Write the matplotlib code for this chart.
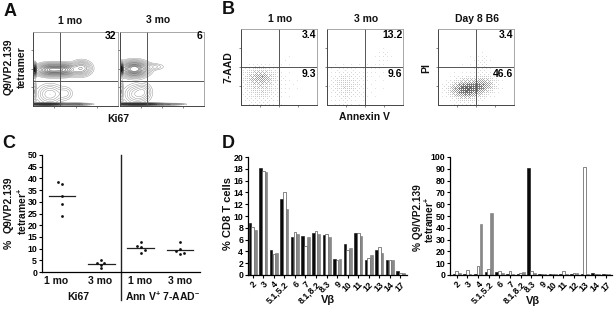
import numpy as np
import matplotlib
matplotlib.use("Agg")
import matplotlib.pyplot as plt

plt.rcParams['font.family'] = ['Liberation Sans', 'DejaVu Sans']
plt.rcParams['font.weight'] = 'bold'
plt.rcParams['mathtext.default'] = 'regular'

W, H = 615, 311

# Panel A: density blobs (x, y, sx, sy, weight), axes fractions
a1_blobs = [(.20, .49, .08, .04, .75), (.36, .49, .08, .04, .70), (.57, .51, .06, .05, .32),
            (.02, .49, .010, .04, 1.3), (.20, .16, .08, .07, .14), (.38, .17, .05, .05, .06),
            (.15, .025, .11, .007, 1.4), (.50, .025, .09, .007, .3), (.02, .2, .010, .09, .10)]
a2_blobs = [(.17, .50, .08, .05, 1.0), (.40, .53, .07, .025, .06), (.02, .50, .010, .04, 1.3),
            (.20, .16, .08, .07, .14), (.28, .20, .05, .06, .08), (.20, .025, .15, .007, 1.4),
            (.60, .025, .09, .006, .15), (.02, .2, .010, .09, .10)]
a_cross = [(.32, .34), (.32, .34)]
a_labels = ['32', '6']

# Panel B: dot clouds as density blobs
b1_blobs = [(.25, .38, .15, .08, .42), (.25, .20, .16, .14, .28), (.62, .60, .06, .05, .05), (.65, .25, .16, .12, .03)]
b2_blobs = [(.25, .25, .15, .15, .28), (.74, .64, .07, .08, .10), (.60, .45, .10, .07, .07), (.68, .22, .12, .10, .03)]
b3_blobs = [(.37, .20, .15, .09, .85), (.62, .27, .11, .08, .45), (.60, .55, .06, .10, .12), (.40, .55, .13, .10, .03)]
b_titles = ['1 mo', '3 mo', 'Day 8 B6']
b_upper = ['3.4', '13.2', '3.4']
b_lower = ['9.3', '9.6', '46.6']
bayer = np.array([[0, 32, 8, 40, 2, 34, 10, 42], [48, 16, 56, 24, 50, 18, 58, 26],
                  [12, 44, 4, 36, 14, 46, 6, 38], [60, 28, 52, 20, 62, 30, 54, 22],
                  [3, 35, 11, 43, 1, 33, 9, 41], [51, 19, 59, 27, 49, 17, 57, 25],
                  [15, 47, 7, 39, 13, 45, 5, 37], [63, 31, 55, 23, 61, 29, 53, 21]]) / 64

# Panel C
c_lines = [32.3, 3.6, 10.3, 9.5]
c_x_off = [[-.1, 0, 0, 0, 0], [0, -.1, .08, 0, 0], [0, -.1, 0, .1, 0], [0, -.1, 0, .1, 0]]
c_y = [[38.5, 37.5, 32.3, 29, 24], [5.2, 4, 4, 3, 1.5], [12.8, 11.3, 10.5, 9.2, 8.3], [12.8, 9.1, 9.7, 8, 7.8]]

# Panel D
vb = ['2', '3', '4', '5.1,5.2', '6', '7', '8.1,8.2', '8.3', '9', '10', '11', '12', '13', '14', '17']
d1_black = [8.8, 18.1, 4.2, 12.8, 6.4, 6.6, 7.1, 6.7, 2.7, 5.3, 7.1, 2.5, 4.2, 2.6, 0.6]
d1_white = [8.1, 17.7, 3.5, 14.1, 7.3, 4.9, 7.4, 7.0, 2.5, 4.2, 7.1, 2.9, 4.7, 2.5, 0.4]
d1_gray = [7.6, 17.5, 3.7, 11.2, 7.0, 6.4, 6.9, 6.5, 2.7, 4.6, 6.6, 3.4, 3.8, 2.5, 0.3]
d2_black = [1, 1, 1, 2.5, 2.5, 1, 1, 91, 1, 1, 1, .5, 1, 1.5, .5]
d2_white = [3, 4, 7.5, 5, 3, 3.5, 2, 3.5, .5, 1, 3, 2, 91.5, 1, 1]
d2_gray = [1.5, .7, 43.5, 52.5, 1.5, 1, 2.3, 2, .5, 1, .5, 1.5, .5, 1, 1]


def box(x0, y0, x1, y1):
    # axes from pixel corners, y counted from the top
    return fig.add_axes([x0 / W, 1 - y1 / H, (x1 - x0) / W, (y1 - y0) / H])


def txt(x, y, s, size=7.5, **kw):
    kw.setdefault('ha', 'center')
    kw.setdefault('va', 'center')
    fig.text(x / W, 1 - y / H, s, fontsize=size, fontweight='bold', color='#111111', **kw)


def density(blobs, n=200):
    g = np.linspace(0, 1, n)
    xx, yy = np.meshgrid(g, g)
    z = np.zeros_like(xx)
    for cx, cy, sx, sy, w in blobs:
        z += w * np.exp(-(xx - cx) ** 2 / (2 * sx ** 2) - (yy - cy) ** 2 / (2 * sy ** 2))
    return g, z


def flow_frame(ax, cx, cy):
    ax.set_xlim(0, 1)
    ax.set_ylim(0, 1)
    ax.axvline(cx, color='#555555', lw=.7)
    ax.axhline(cy, color='#555555', lw=.7)
    ax.set_xticks([.25, .5, .75])
    ax.set_yticks([.25, .5, .75])
    ax.tick_params(length=1.5, width=.5, labelleft=False, labelbottom=False, color='#555555')
    for s in ['top', 'right']:
        ax.spines[s].set_color('#999999')
        ax.spines[s].set_linewidth(.6)
    for s in ['left', 'bottom']:
        ax.spines[s].set_color('#444444')
        ax.spines[s].set_linewidth(.7)


fig = plt.figure(figsize=(W / 100, H / 100), dpi=100)

# A
a_boxes = [(33, 32, 118, 106), (120, 32, 204, 106)]
a_levels = [.015, .03, .05, .075, .105, .14, .19, .25, .33, .42, .52, .62, .72, .82]
a_shades = ['#888888'] * 6 + ['#555555'] * 3 + ['#333333'] * 5
for pos, blobs, cross, lab in zip(a_boxes, [a1_blobs, a2_blobs], a_cross, a_labels):
    ax = box(*pos)
    g, z = density(blobs)
    ax.contour(g, g, z, levels=a_levels, colors=a_shades, linewidths=.3)
    ax.contourf(g, g, z, levels=[1.1, 3], colors='#111111')
    flow_frame(ax, *cross)
    ax.text(.98, .94, lab, transform=ax.transAxes, ha='right', va='center', fontsize=7.5)
txt(70, 21, '1 mo')
txt(158, 20, '3 mo')
txt(118, 119, 'Ki67')
txt(9, 67, 'Q9/VP2.139', rotation=90)
txt(22, 67, 'tetramer', rotation=90)

# B
b_boxes = [(241, 29, 317, 105), (327, 29, 403, 105), (438, 29, 514, 105)]
for i, blobs in enumerate([b1_blobs, b2_blobs, b3_blobs]):
    ax = box(*b_boxes[i])
    g, z = density(blobs, 76)
    r, c = np.indices(z.shape)
    dots = (z > bayer[r % 8, c % 8] + .02) * (.25 + .75 * np.clip(z, 0, 1))
    ax.pcolormesh(g, g, dots, cmap='Greys', vmin=0, vmax=1.35, shading='nearest', rasterized=True)
    flow_frame(ax, .5, .5)
    ax.text(.99, .92, b_upper[i], transform=ax.transAxes, ha='right', va='center', fontsize=7.5)
    ax.text(.99, .41, b_lower[i], transform=ax.transAxes, ha='right', va='center', fontsize=7.5)
    txt((b_boxes[i][0] + b_boxes[i][2]) / 2 + 1, 19, b_titles[i])
txt(364, 117, 'Annexin V')
txt(229, 67, '7-AAD', rotation=90)
txt(426, 68, 'PI', rotation=90)

# C
ax = box(42, 155, 200, 272)
for i in range(4):
    xs = [i + 1 + d for d in c_x_off[i]]
    ax.scatter(xs, c_y[i], s=4, marker='o', color='#111111', linewidths=0, zorder=3)
    ax.plot([i + 1 - .34, i + 1 + .34], [c_lines[i]] * 2, color='#222222', lw=.9)
ax.set_xlim(.49, 4.51)
ax.set_ylim(0, 50)
ax.set_xticks([])
ax.set_yticks(np.arange(0, 51, 5))
ax.tick_params(axis='y', labelsize=6.3, length=2.5, width=.8, pad=1)
ax.plot([2.5, 2.5], [-.24, 1], transform=ax.get_xaxis_transform(), color='#222222', lw=1, clip_on=False)
for s in ['top', 'right']:
    ax.spines[s].set_visible(False)
for s in ['left', 'bottom']:
    ax.spines[s].set_linewidth(.9)
for x, s in zip([56, 100, 140, 180], ['1 mo', '3 mo', '1 mo', '3 mo']):
    txt(x, 281, s)
txt(78, 297, 'Ki67')
txt(163, 296, 'Ann V$^{+}$ 7-AAD$^{-}$')
txt(9, 244, '%', rotation=90)
txt(9, 205, 'Q9/VP2.139', rotation=90)
txt(22, 211, 'tetramer$^{+}$', rotation=90)


# D
def bars(ax, black, white, gray, xlim, ymax, yticks, size):
    x = np.arange(len(vb))
    w = .26
    ax.bar(x - w, black, w * .95, color='#0a0a0a', edgecolor='#0a0a0a', linewidth=.4)
    ax.bar(x, white, w * .95, color='white', edgecolor='#555555', linewidth=.5)
    ax.bar(x + w, gray, w * .95, color='#888888', edgecolor='#777777', linewidth=.4)
    ax.set_xlim(*xlim)
    ax.set_ylim(0, ymax)
    ax.set_yticks(yticks)
    ax.set_xticks(x)
    ax.set_xticklabels(vb, rotation=45, ha='right', rotation_mode='anchor', fontsize=size)
    ax.tick_params(axis='y', labelsize=size, length=2.5, width=.8, pad=1)
    ax.tick_params(axis='x', length=2, width=.8, pad=1.5)
    for s in ['top', 'right']:
        ax.spines[s].set_visible(False)
    for s in ['left', 'bottom']:
        ax.spines[s].set_linewidth(.9)


ax = box(248, 157, 407, 275)
bars(ax, d1_black, d1_white, d1_gray, (-.445, 14.62), 20, np.arange(0, 21, 2), 6.3)
txt(328, 300, 'V\u03b2', 8)
txt(228, 213, '% CD8 T cells', 8, rotation=90)

ax = box(450, 157, 612, 275)
bars(ax, d2_black, d2_white, d2_gray, (-.63, 14.55), 100, np.arange(0, 101, 10), 6.3)
txt(533, 301, 'V\u03b2', 8)
txt(418, 218, '% Q9/VP2.139', 7.3, rotation=90)
txt(429, 220, 'tetramer$^{+}$', 7.3, rotation=90)

# panel letters
txt(10, 12, 'A', 13)
txt(228, 9, 'B', 13)
txt(9, 143, 'C', 13)
txt(228, 143, 'D', 13)

fig.savefig('out.png', dpi=100)
